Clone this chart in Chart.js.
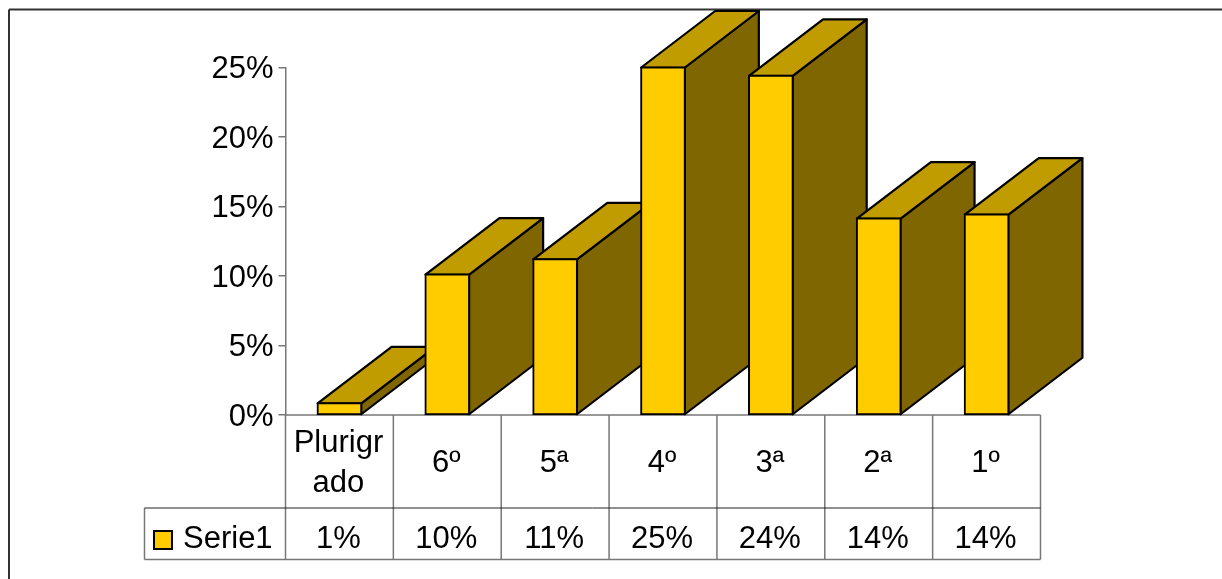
<!DOCTYPE html>
<html lang="es">
<head>
  <meta charset="UTF-8">
  <title>Serie1</title>
  <script src="https://cdn.jsdelivr.net/npm/chart.js"></script>
  <style>
    html, body { margin: 0; padding: 0; background: #fff; overflow: hidden; }
    canvas { display: block; }
  </style>
</head>
<body>
<canvas id="chart" width="1222" height="579"></canvas>

<script>
// data
const categories = [['Plurigr', 'ado'], '6º', '5ª', '4º', '3ª', '2ª', '1º'];
const serieName = 'Serie1';
const serieValues = [0.84, 10.1, 11.2, 25, 24.4, 14.13, 14.42];
const tableValues = ['1%', '10%', '11%', '25%', '24%', '14%', '14%'];
const yTicks = [0, 5, 10, 15, 20, 25];

const FRONT = '#FFCC00', TOP = '#C09C00', SIDE = '#806600', GREY = '#777777';
const FONT = '31px "Liberation Sans", Arial, sans-serif';
const DEPTH_X = 74, DEPTH_Y = 56.5;   // oblique offset of the fake 3D
const ROW1_BOTTOM = 508, ROW2_BOTTOM = 559.5, TABLE_LEFT = 144.5;

function line(ctx, x1, y1, x2, y2, color, w) {
  ctx.strokeStyle = color;
  ctx.lineWidth = w;
  ctx.beginPath();
  ctx.moveTo(x1, y1);
  ctx.lineTo(x2, y2);
  ctx.stroke();
}

function poly(ctx, pts, fill) {
  ctx.fillStyle = fill;
  ctx.strokeStyle = '#000';
  ctx.lineWidth = 2.2;
  ctx.lineJoin = 'round';
  ctx.beginPath();
  pts.forEach((p, i) => i ? ctx.lineTo(p[0], p[1]) : ctx.moveTo(p[0], p[1]));
  ctx.closePath();
  ctx.fill();
  ctx.stroke();
}

// frame, table and the sides of the bars, all under the bar fronts
const backdrop = {
  id: 'backdrop',
  beforeDatasetsDraw(chart) {
    const ctx = chart.ctx, area = chart.chartArea, x = chart.scales.x;
    const step = (area.right - area.left) / categories.length;
    ctx.save();

    // outer frame only has a top and a left line
    line(ctx, 9, 9.5, 1222, 9.5, '#333', 2);
    line(ctx, 9, 9.5, 9, 579, '#333', 2);

    // table grid
    line(ctx, area.left, area.bottom, area.right, area.bottom, GREY, 1.5);
    line(ctx, area.left, area.bottom, area.left, ROW2_BOTTOM, GREY, 1.5);
    for (let i = 1; i <= categories.length; i++) {
      const px = area.left + i * step;
      line(ctx, px, area.bottom, px, ROW2_BOTTOM, GREY, 1.5);
    }
    line(ctx, TABLE_LEFT, ROW1_BOTTOM, TABLE_LEFT, ROW2_BOTTOM, GREY, 1.5);
    line(ctx, TABLE_LEFT, ROW2_BOTTOM, area.right, ROW2_BOTTOM, GREY, 1.5);
    line(ctx, TABLE_LEFT, ROW1_BOTTOM, area.right, ROW1_BOTTOM, '#222', 1);

    // table text
    ctx.font = FONT;
    ctx.fillStyle = '#000';
    ctx.textAlign = 'center';
    ctx.textBaseline = 'alphabetic';
    categories.forEach((c, i) => {
      const px = x.getPixelForValue(i) - 1;
      if (Array.isArray(c)) {
        ctx.fillText(c[0], px, 452);
        ctx.fillText(c[1], px, 492);
      } else {
        ctx.fillText(c, px, 472);
      }
      ctx.fillText(tableValues[i], px, 548);
    });

    // legend key
    ctx.fillStyle = FRONT;
    ctx.strokeStyle = '#000';
    ctx.lineWidth = 2;
    ctx.fillRect(154, 531, 18, 18);
    ctx.strokeRect(154, 531, 18, 18);
    ctx.fillStyle = '#000';
    ctx.textAlign = 'left';
    ctx.fillText(serieName, 183, 548);

    // left to right, each bar covers the side of the one before it
    chart.getDatasetMeta(0).data.forEach(bar => {
      const l = bar.x - bar.width / 2, r = bar.x + bar.width / 2;
      const t = bar.y, b = bar.base;
      poly(ctx, [[r, t], [r + DEPTH_X, t - DEPTH_Y], [r + DEPTH_X, b - DEPTH_Y], [r, b]], SIDE);
      poly(ctx, [[l, t], [l + DEPTH_X, t - DEPTH_Y], [r + DEPTH_X, t - DEPTH_Y], [r, t]], TOP);
    });
    ctx.restore();
  }
};

new Chart(document.getElementById('chart'), {
  type: 'bar',
  data: {
    labels: categories,
    datasets: [{
      label: serieName,
      data: serieValues,
      backgroundColor: FRONT,
      borderColor: '#000',
      borderWidth: 2,
      borderSkipped: false,
      inflateAmount: 1,
      barPercentage: 0.405,
      categoryPercentage: 1,
      clip: false
    }]
  },
  plugins: [backdrop],
  options: {
    responsive: false,
    animation: false,
    layout: { padding: { top: 67.5, right: 181.5, left: 0, bottom: 0 } },
    plugins: { legend: { display: false }, tooltip: { enabled: false } },
    scales: {
      x: {
        ticks: { display: false },
        grid: { display: false },
        border: { display: false },
        afterFit(s) { s.height = 164; }
      },
      y: {
        min: 0,
        max: 25,
        afterBuildTicks(s) { s.ticks = yTicks.map(v => ({ value: v })); },
        afterFit(s) { s.width = 285.5; },
        ticks: {
          color: '#000',
          padding: 5,
          labelOffset: 2,
          font: { family: '"Liberation Sans", Arial, sans-serif', size: 31 },
          callback: v => v + '%'
        },
        grid: { drawOnChartArea: false, color: GREY, tickLength: 7, lineWidth: 1.5 },
        border: { color: GREY, width: 1.5 }
      }
    }
  }
});
</script>
</body>
</html>
